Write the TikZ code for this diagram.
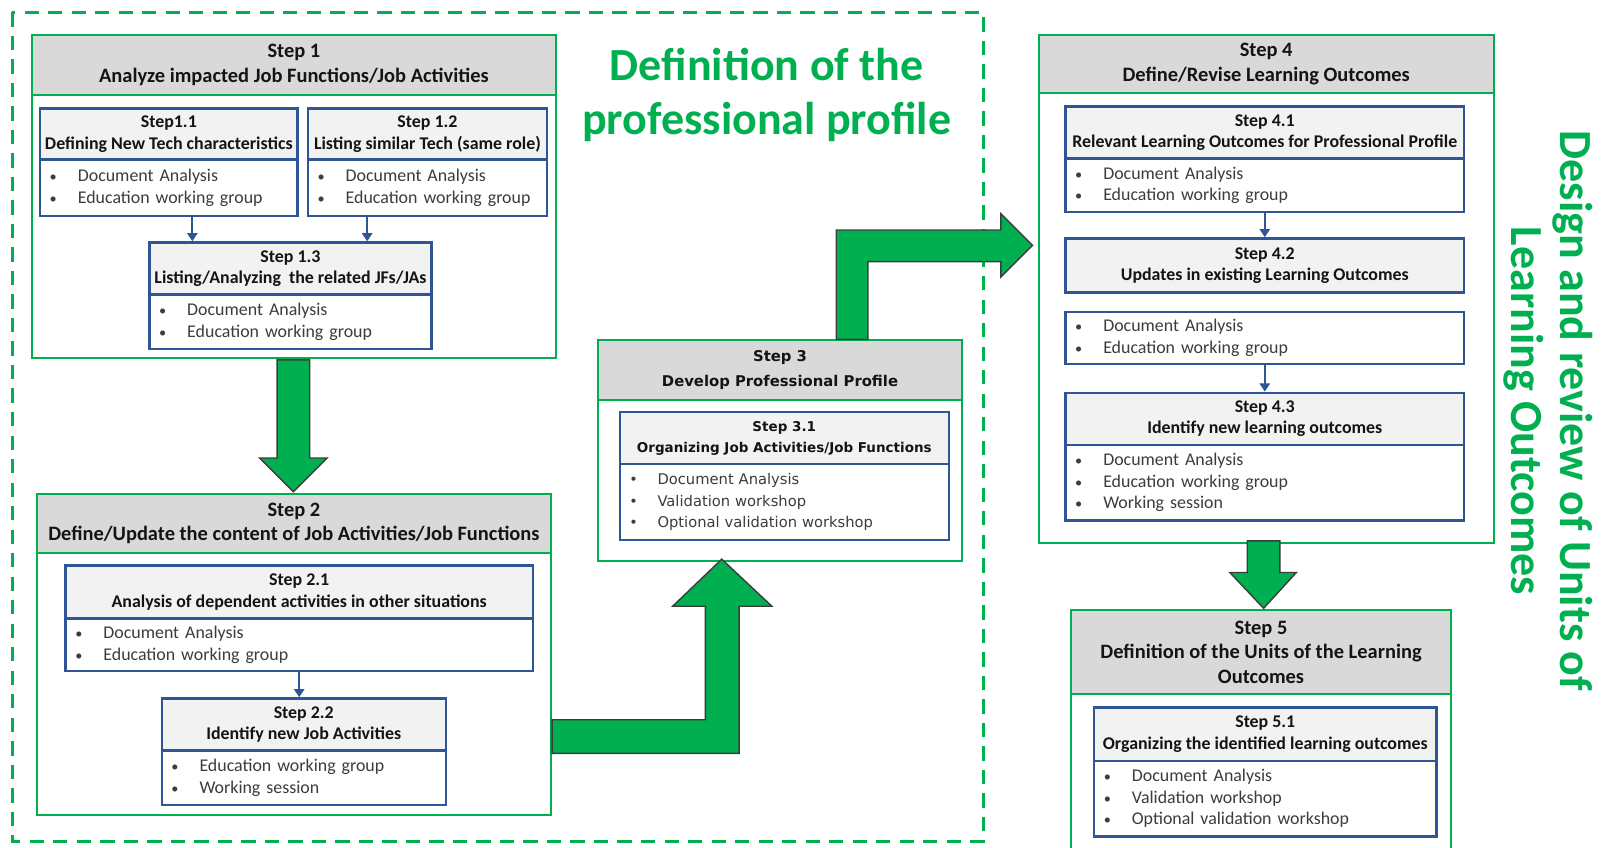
\documentclass[tikz,border=0pt]{standalone}
\usepackage{fontspec}
\setmainfont{Carlito}
\newfontfamily\dejavu{DejaVu Sans}
\usetikzlibrary{arrows.meta}
\definecolor{boxgreen}{RGB}{0,176,80}
\definecolor{hgray}{RGB}{217,217,217}
\definecolor{lgray}{RGB}{242,242,242}
\definecolor{dblue}{RGB}{47,85,151}
\definecolor{txt}{RGB}{20,20,20}
\definecolor{btxt}{RGB}{60,60,60}
\definecolor{aout}{RGB}{60,60,60}
\newcommand\bl[1]{\makebox[28pt][l]{\hspace{0.5pt}{\fontsize{14}{14}\selectfont\textbullet}}#1}
\tikzset{
 outerbox/.style={draw=boxgreen, line width=2pt, fill=white, anchor=north west, inner sep=0pt},
 mainhdr/.style={draw=boxgreen, line width=2pt, fill=hgray, anchor=north west, inner sep=0pt, align=center, text=txt, font=\fontsize{20}{24}\selectfont\bfseries},
 subhdr/.style={draw=dblue, line width=2.3pt, fill=lgray, anchor=north west, inner sep=0pt, align=center, text=txt, font=\fontsize{17.5}{21}\selectfont\bfseries},
 subbody/.style={draw=dblue, line width=2.3pt, fill=white, anchor=north west, inner xsep=9pt, inner ysep=0pt, align=left, text=btxt, font=\fontsize{17.5}{21}\selectfont},
 mainhdrj/.style={mainhdr, font=\dejavu\fontsize{14.5}{24}\selectfont\bfseries},
 subhdrj/.style={subhdr, font=\dejavu\fontsize{13.2}{21}\selectfont\bfseries},
 subbodyj/.style={subbody, font=\dejavu\fontsize{14.4}{21}\selectfont},
 sarrow/.style={draw=dblue, line width=2.2pt, -{Triangle[width=10pt,length=8pt]}},
 bigarrow/.style={draw=aout, line width=1.4pt, fill=boxgreen, line join=miter},
 dashbox/.style={draw=boxgreen, line width=3pt, dash pattern=on 14pt off 9pt},
 bigtitle/.style={text=boxgreen, align=center, font=\fontsize{45}{53}\selectfont\bfseries},
}
\begin{document}
\begin{tikzpicture}[x=1pt,y=-1pt]
\useasboundingbox (0,0) rectangle (1568,829);
\clip (0,0) rectangle (1568,829);
\fill[white] (0,0) rectangle (1568,829);

% dashed frame
\draw[dashbox] (12,12) rectangle (962,823);

% title
\node[bigtitle] (ttl) at (750,93) {Definition of the\\professional profile};

% Step 1
\node[outerbox, minimum width=513pt, minimum height=316pt] (s1) at (30,33) {};
\node[mainhdr, minimum width=513pt, minimum height=59pt] (s1h) at (30,33) {Step 1\\Analyze impacted Job Functions/Job Activities};
\node[subhdr, minimum width=252pt, minimum height=50pt] (s11h) at (38,105) {Step1.1\\Defining New Tech characteristics};
\node[subbody, minimum width=252pt, minimum height=55pt, text width=234pt] (s11b) at (38,155) {\bl{Document Analysis}\\\bl{Education working group}};
\node[subhdr, minimum width=234pt, minimum height=50pt] (s12h) at (300,105) {Step 1.2\\Listing similar Tech (same role)};
\node[subbody, minimum width=234pt, minimum height=55pt, text width=216pt] (s12b) at (300,155) {\bl{Document Analysis}\\\bl{Education working group}};
\node[subhdr, minimum width=276pt, minimum height=51pt] (s13h) at (145,236) {Step 1.3\\Listing/Analyzing\ \ the related JFs/JAs};
\node[subbody, minimum width=276pt, minimum height=53pt, text width=258pt] (s13b) at (145,287) {\bl{Document Analysis}\\\bl{Education working group}};
\draw[sarrow] ([xshift=23pt]s11b.south) -- ([xshift=23pt]s11b.south |- s13h.north);
\draw[sarrow] ([xshift=-59pt]s12b.south) -- ([xshift=-59pt]s12b.south |- s13h.north);

% Step 2
\node[outerbox, minimum width=503pt, minimum height=314pt] (s2) at (35,482) {};
\node[mainhdr, minimum width=503pt, minimum height=58pt] (s2h) at (35,482) {Step 2\\Define/Update the content of Job Activities/Job Functions};
\node[subhdr, minimum width=457pt, minimum height=52pt] (s21h) at (63,552) {Step 2.1\\Analysis of dependent activities in other situations};
\node[subbody, minimum width=457pt, minimum height=51pt, text width=439pt] (s21b) at (63,604) {\bl{Document Analysis}\\\bl{Education working group}};
\node[subhdr, minimum width=278pt, minimum height=51pt] (s22h) at (157,682) {Step 2.2\\Identify new Job Activities};
\node[subbody, minimum width=278pt, minimum height=53pt, text width=260pt] (s22b) at (157,733) {\bl{Education working group}\\\bl{Working session}};
\draw[sarrow] (s21b.south) -- (s21b.south |- s22h.north);

% Step 3
\node[outerbox, minimum width=356pt, minimum height=216pt] (s3) at (584,332) {};
\node[mainhdrj, minimum width=356pt, minimum height=58pt] (s3h) at (584,332) {Step 3\\Develop Professional Profile};
\node[subhdrj, minimum width=322pt, minimum height=51pt] (s31h) at (605,402) {Step 3.1\\Organizing Job Activities/Job Functions};
\node[subbodyj, minimum width=322pt, minimum height=74pt, text width=304pt] (s31b) at (605,453) {\bl{Document Analysis}\\\bl{Validation workshop}\\\bl{Optional validation workshop}};

% Step 4
\node[outerbox, minimum width=445pt, minimum height=497pt] (s4) at (1015,33) {};
\node[mainhdr, minimum width=445pt, minimum height=57pt] (s4h) at (1015,33) {Step 4\\Define/Revise Learning Outcomes};
\node[subhdr, minimum width=390pt, minimum height=51pt] (s41h) at (1041,103) {Step 4.1\\Relevant Learning Outcomes for Professional Profile};
\node[subbody, minimum width=390pt, minimum height=52pt, text width=372pt] (s41b) at (1041,154) {\bl{Document Analysis}\\\bl{Education working group}};
\node[subhdr, minimum width=390pt, minimum height=53pt] (s42h) at (1041,232) {Step 4.2\\Updates in existing Learning Outcomes};
\node[subbody, minimum width=390pt, minimum height=51pt, text width=372pt] (s42b) at (1041,304) {\bl{Document Analysis}\\\bl{Education working group}};
\node[subhdr, minimum width=390pt, minimum height=51pt] (s43h) at (1041,383) {Step 4.3\\Identify new learning outcomes};
\node[subbody, minimum width=390pt, minimum height=74pt, text width=372pt] (s43b) at (1041,434) {\bl{Document Analysis}\\\bl{Education working group}\\\bl{Working session}};
\draw[sarrow] (s41b.south) -- (s42h.north);
\draw[sarrow] (s42b.south) -- (s43h.north);

% Step 5
\node[outerbox, minimum width=371pt, minimum height=260pt] (s5) at (1047,596) {};
\node[mainhdr, minimum width=371pt, minimum height=82pt] (s5h) at (1047,596) {Step 5\\Definition of the Units of the Learning\\Outcomes};
\node[subhdr, minimum width=335pt, minimum height=52pt] (s51h) at (1069,691) {Step 5.1\\Organizing the identified learning outcomes};
\node[subbody, minimum width=335pt, minimum height=74pt, text width=317pt] (s51b) at (1069,743) {\bl{Document Analysis}\\\bl{Validation workshop}\\\bl{Optional validation workshop}};

% big arrows
\draw[bigarrow] (271,352) -- (303,352) -- (303,448) -- (320,448) -- (287,481) -- (254,448) -- (271,448) -- cycle;
\draw[bigarrow] (540,704) -- (690,704) -- (690,593) -- (658,593) -- (706,547) -- (755,593) -- (723,593) -- (723,737) -- (540,737) -- cycle;
\draw[bigarrow] (818,332) -- (818,225) -- (979,225) -- (979,209) -- (1010,240) -- (979,271) -- (979,256) -- (849,256) -- (849,332) -- cycle;
\draw[bigarrow] (1220,529) -- (1252,529) -- (1252,560) -- (1268,560) -- (1236,595) -- (1203,560) -- (1220,560) -- cycle;

% vertical title
\node[bigtitle, rotate=-90, font=\fontsize{45}{48}\selectfont\bfseries] (vt) at (1514,402) {Design and review of Units of\\Learning Outcomes};
\end{tikzpicture}
\end{document}
